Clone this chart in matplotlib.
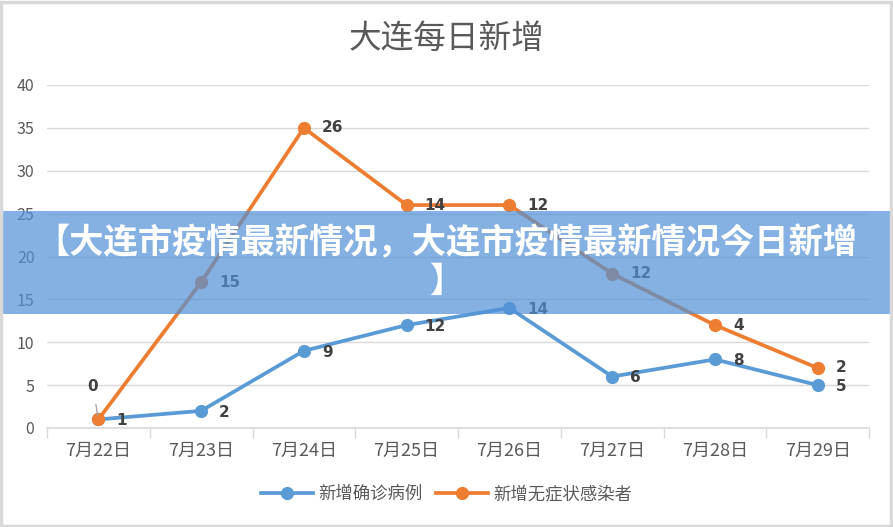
import matplotlib.pyplot as plt
from matplotlib.patches import Rectangle
import numpy as np

plt.rcParams['font.family'] = ['Noto Sans CJK SC', 'DejaVu Sans']

dates = ['7月22日', '7月23日', '7月24日', '7月25日', '7月26日', '7月27日', '7月28日', '7月29日']
confirmed = [1, 2, 9, 12, 14, 6, 8, 5]
asymptomatic = [0, 15, 26, 14, 12, 12, 4, 2]
series_names = ['新增确诊病例', '新增无症状感染者']
title = '大连每日新增'
banner = '【大连市疫情最新情况，大连市疫情最新情况今日新增\n】'

blue = '#5B9BD5'
orange = '#ED7D31'
grey_txt = '#595959'
grid_c = '#D9D9D9'

x = np.arange(len(dates))
y1 = np.array(confirmed)
y2 = y1 + np.array(asymptomatic)  # stacked line chart

fig = plt.figure(figsize=(8.93, 5.27), dpi=100)
fig.set_facecolor('white')
ax = fig.add_axes([47 / 893, 1 - 428 / 527, (869 - 47) / 893, (428 - 85) / 527])

ax.plot(x, y1, color=blue, lw=2.7, marker='o', ms=8.5, label=series_names[0], zorder=3)
ax.plot(x, y2, color=orange, lw=2.7, marker='o', ms=8.5, label=series_names[1], zorder=3)

lab_kw = dict(fontsize=11, fontweight='bold', color='#404040', va='center', ha='left',
              textcoords='offset points', family=['DejaVu Sans'])
for i in range(len(x)):
    ax.annotate(str(confirmed[i]), (x[i], y1[i]), xytext=(13, -1), **lab_kw)
    if i == 0:
        ax.annotate(str(asymptomatic[i]), (x[i], y2[i]), xytext=(-4, 24), fontsize=11,
                    fontweight='bold', color='#404040', ha='center', va='center',
                    textcoords='offset points', family=['DejaVu Sans'],
                    arrowprops=dict(arrowstyle='-', color='#A6A6A6', lw=1,
                                    shrinkA=6, shrinkB=3))
    else:
        ax.annotate(str(asymptomatic[i]), (x[i], y2[i]), xytext=(13, 0), **lab_kw)

ax.set_xlim(-0.5, len(x) - 0.5)
ax.set_ylim(0, 40)
ax.set_yticks(np.arange(0, 41, 5))
ax.set_xticks(x)
ax.set_xticklabels(dates)
ax.set_xticks(np.arange(-0.5, len(x), 1), minor=True)
ax.tick_params(axis='x', which='major', length=0, pad=10, labelsize=13, labelcolor=grey_txt)
ax.tick_params(axis='x', which='minor', length=7, color=grid_c, width=1)
ax.tick_params(axis='y', length=0, pad=9, labelsize=11.5, labelcolor=grey_txt)
ax.grid(axis='y', color=grid_c, lw=1)
ax.set_axisbelow(True)
for s in ['top', 'right', 'left']:
    ax.spines[s].set_visible(False)
ax.spines['bottom'].set_color(grid_c)
ax.spines['bottom'].set_linewidth(1.2)

fig.text(0.5, 1 - 39 / 527, title, ha='center', va='center', fontsize=23.5, color=grey_txt)

fig.legend(loc='center', bbox_to_anchor=(0.5, 1 - 494 / 527), ncol=2, frameon=False,
           fontsize=12.5, labelcolor=grey_txt, handlelength=3, handletextpad=0.3,
           columnspacing=0.8)

# semi-transparent banner on top of the chart
fig.patches.append(Rectangle((0, 1 - 314 / 527), 1, 103 / 527, transform=fig.transFigure,
                             facecolor=(80 / 255, 145 / 255, 215 / 255), alpha=0.7,
                             edgecolor='none', zorder=5))
fig.text(0.5, 1 - 262 / 527, banner, ha='center', va='center', fontsize=24.7,
         fontweight='bold', color='white', linespacing=1.12, zorder=6)

# light grey frame
fig.patches.append(Rectangle((0.001, 0.002), 0.997, 0.995, transform=fig.transFigure,
                             fill=False, edgecolor=grid_c, lw=2.5, zorder=7))

fig.savefig('out.png', dpi=100)
